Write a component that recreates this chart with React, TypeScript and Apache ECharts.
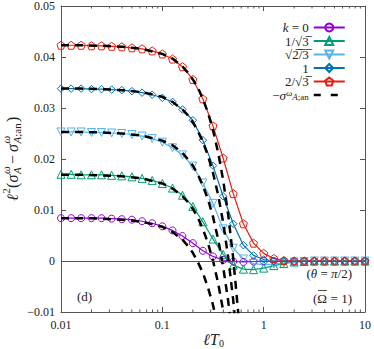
import React, { useEffect, useRef } from 'react';
import * as echarts from 'echarts';

// ---- data ----
const X_T0 = [0.01, 0.0126, 0.0158, 0.02, 0.0251, 0.0316, 0.0398, 0.0501, 0.0631, 0.0794, 0.1, 0.126, 0.158, 0.2, 0.251, 0.316, 0.398, 0.501, 0.631, 0.794, 1, 1.26, 1.58, 2, 2.51, 3.16, 3.98, 5.01, 6.31, 7.94, 10];

const SIGMA_K0 = [0.0084, 0.0084, 0.0084, 0.0084, 0.0084, 0.0083, 0.0082, 0.0081, 0.0078, 0.0074, 0.0068, 0.0060, 0.0049, 0.0035, 0.0020, 0.0009, 0.0002, -0.0001, -0.0002, -0.0001, 0, 0, 0, 0, 0, 0, 0, 0, 0, 0, 0];
const SIGMA_K1 = [0.0170, 0.0170, 0.0169, 0.0169, 0.0169, 0.0168, 0.0167, 0.0165, 0.0162, 0.0158, 0.0152, 0.0143, 0.0129, 0.0107, 0.0077, 0.0043, 0.0013, -0.0008, -0.0016, -0.0017, -0.0014, -0.0009, -0.0005, -0.0002, -0.0001, 0, 0, 0, 0, 0, 0];
const SIGMA_K2 = [0.0253, 0.0253, 0.0253, 0.0252, 0.0252, 0.0251, 0.0250, 0.0248, 0.0245, 0.0240, 0.0233, 0.0222, 0.0208, 0.0186, 0.0153, 0.0113, 0.0063, 0.0025, 0.0004, -0.0005, -0.0007, -0.0006, -0.0004, -0.0002, -0.0001, 0, 0, 0, 0, 0, 0];
const SIGMA_K3 = [0.0338, 0.0338, 0.0338, 0.0337, 0.0337, 0.0336, 0.0335, 0.0333, 0.0330, 0.0326, 0.0320, 0.0312, 0.0297, 0.0276, 0.0237, 0.0187, 0.0127, 0.0073, 0.0031, 0.0011, 0.0003, 0.0000, -0.0001, -0.0001, 0, 0, 0, 0, 0, 0, 0];
const SIGMA_K4 = [0.0423, 0.0423, 0.0423, 0.0422, 0.0422, 0.0421, 0.0420, 0.0418, 0.0416, 0.0412, 0.0406, 0.0396, 0.0381, 0.0356, 0.0318, 0.0265, 0.0202, 0.0132, 0.0073, 0.0035, 0.0015, 0.0005, 0.0001, 0, 0, 0, 0, 0, 0, 0, 0];

const X_AN = [0.01, 0.0158, 0.0251, 0.0398, 0.0631, 0.1, 0.126, 0.158, 0.178, 0.2, 0.224, 0.251, 0.282, 0.316, 0.355, 0.398, 0.447, 0.501, 0.562, 0.631];
const AN_K0 = [0.0084, 0.0084, 0.0083, 0.0081, 0.0077, 0.0067, 0.0057, 0.0042, 0.0030, 0.0016, -0.0002, -0.0023, -0.0052, -0.0086, -0.0131];
const AN_K1 = [0.0169, 0.0169, 0.0168, 0.0166, 0.0162, 0.0152, 0.0142, 0.0127, 0.0116, 0.0102, 0.0085, 0.0063, 0.0035, 0.0001, -0.0043, -0.0097, -0.0167];
const AN_K2 = [0.0253, 0.0253, 0.0252, 0.0250, 0.0246, 0.0236, 0.0227, 0.0212, 0.0200, 0.0187, 0.0170, 0.0148, 0.0121, 0.0087, 0.0043, -0.0011, -0.0079, -0.0165];
const AN_K3 = [0.0338, 0.0338, 0.0337, 0.0335, 0.0331, 0.0322, 0.0312, 0.0297, 0.0286, 0.0272, 0.0255, 0.0234, 0.0207, 0.0173, 0.0130, 0.0076, 0.0007, -0.0077, -0.0185];
const AN_K4 = [0.0423, 0.0423, 0.0422, 0.0420, 0.0416, 0.0406, 0.0397, 0.0381, 0.0370, 0.0356, 0.0340, 0.0318, 0.0291, 0.0257, 0.0213, 0.0159, 0.0090, 0.0005, -0.0103, -0.0240];

const X_MIN = 0.01;
const X_MAX = 10;
const Y_MIN = -0.01;
const Y_MAX = 0.05;
const Y_STEP = 0.01;

const SERIES_NAMES = ['k0', 'k1', 'k2', 'k3', 'k4'];
const AN_NAME = 'an';
const LEGEND_LABELS = [
  '{i|k}{r| = 0}',
  '{r|1/√3\u0305}',
  '{r|√2\u0305/\u03053\u0305}',
  '{r|1}',
  '{r|2/√3\u0305}',
  '{r|−}{i|σ}{sup|ω}{sub|A}{subr|;an}',
];

// ---- styles ----
const FONT = "'Liberation Serif', 'DejaVu Serif', serif";
const AXIS_COLOR = '#555';
const TEXT_COLOR = '#222';
const COLORS = ['#9400d3', '#009e73', '#56b4e9', '#0072b2', '#e51e10'];
const PENTAGON = 'path://M0,-1 L0.951,-0.309 L0.588,0.809 L-0.588,0.809 L-0.951,-0.309 Z';
const SYMBOLS = ['circle', 'triangle', 'triangle', 'diamond', PENTAGON];
const SYMBOL_ROTATE = [0, 0, 180, 0, 0];
const SYMBOL_SIZE = [7, 8, 8, 7.5, 8];

export default function App() {
  const ref = useRef<HTMLDivElement>(null);

  useEffect(() => {
    if (!ref.current) return;
    const chart = echarts.init(ref.current, null, { renderer: 'svg' });

    const sigma = [SIGMA_K0, SIGMA_K1, SIGMA_K2, SIGMA_K3, SIGMA_K4];
    const an = [AN_K0, AN_K1, AN_K2, AN_K3, AN_K4];

    const minorTicks: number[] = [];
    [0.01, 0.1, 1].forEach((d) => {
      for (let m = 2; m <= 9; m++) minorTicks.push(+(d * m).toPrecision(3));
    });

    const colored: any[] = sigma.map((vals, k) => ({
      type: 'line',
      name: SERIES_NAMES[k],
      data: vals.map((v, i) => [X_T0[i], v]),
      symbol: SYMBOLS[k],
      symbolSize: SYMBOL_SIZE[k],
      symbolRotate: SYMBOL_ROTATE[k],
      showAllSymbol: true,
      lineStyle: { color: COLORS[k], width: 1.2 },
      itemStyle: { color: 'rgba(255,255,255,0)', borderColor: COLORS[k], borderWidth: 1 },
      z: 3,
      ...(k === 0
        ? {
            markLine: {
              silent: true,
              symbol: 'none',
              label: { show: false },
              lineStyle: { color: AXIS_COLOR, width: 1, type: 'solid' },
              data: [{ yAxis: 0 }],
            },
          }
        : {}),
    }));

    const dashed: any[] = an.map((vals) => ({
      type: 'line',
      name: AN_NAME,
      data: vals.map((v, i) => [X_AN[i], v]),
      symbol: 'none',
      lineStyle: { color: '#000', width: 2.5, type: [8, 6] },
      itemStyle: { color: '#000' },
      z: 4,
    }));

    const ticks = {
      type: 'custom',
      name: 'minorTicks',
      silent: true,
      clip: false,
      z: 5,
      data: minorTicks.map((v) => [v, Y_MIN]),
      encode: { x: 0, y: 1 },
      renderItem: (_p: any, api: any) => {
        const v = api.value(0);
        const b = api.coord([v, Y_MIN]);
        const t = api.coord([v, Y_MAX]);
        return {
          type: 'group',
          children: [
            { type: 'line', shape: { x1: b[0], y1: b[1], x2: b[0], y2: b[1] - 2.5 }, style: { stroke: AXIS_COLOR, lineWidth: 1 } },
            { type: 'line', shape: { x1: t[0], y1: t[1], x2: t[0], y2: t[1] + 2.5 }, style: { stroke: AXIS_COLOR, lineWidth: 1 } },
          ],
        };
      },
    };

    const labelStyle = { fontFamily: FONT, fontSize: 12, color: TEXT_COLOR };
    const xBase = {
      type: 'log',
      logBase: 10,
      min: X_MIN,
      max: X_MAX,
      splitLine: { show: false },
      axisLine: { show: true, onZero: false, lineStyle: { color: AXIS_COLOR, width: 1 } },
      axisTick: { show: true, inside: true, length: 5, lineStyle: { color: AXIS_COLOR } },
    };
    const yBase = {
      type: 'value',
      min: Y_MIN,
      max: Y_MAX,
      interval: Y_STEP,
      splitLine: { show: false },
      axisLine: { show: true, onZero: false, lineStyle: { color: AXIS_COLOR, width: 1 } },
      axisTick: { show: true, inside: true, length: 5, lineStyle: { color: AXIS_COLOR } },
    };

    const small = 11;
    const main = 16;
    const txt = (text: string, x: number, y: number, size: number, italic: boolean) => ({
      type: 'text',
      style: {
        text,
        x,
        y,
        fill: TEXT_COLOR,
        fontFamily: FONT,
        fontSize: size,
        fontStyle: italic ? 'italic' : 'normal',
        align: 'left',
        verticalAlign: 'middle',
      },
    });

    const option: any = {
      animation: false,
      backgroundColor: '#fff',
      grid: { left: 61, right: 6.3, top: 5.5, bottom: 37 },
      xAxis: [
        {
          ...xBase,
          position: 'bottom',
          axisLabel: { ...labelStyle, margin: 7, formatter: (v: number) => String(+v.toPrecision(3)) },
        },
        { ...xBase, position: 'top', axisLabel: { show: false } },
      ],
      yAxis: [
        {
          ...yBase,
          position: 'left',
          axisLabel: {
            ...labelStyle,
            margin: 6,
            formatter: (v: number) =>
              Math.abs(v) < 1e-9 ? '0' : v < 0 ? '−' + Math.abs(v).toFixed(2) : v.toFixed(2),
          },
        },
        { ...yBase, position: 'right', axisLabel: { show: false } },
      ],
      legend: {
        orient: 'vertical',
        right: 28,
        top: 21,
        padding: 0,
        itemGap: 0.5,
        itemWidth: 31,
        itemHeight: 10,
        align: 'right',
        selectedMode: false,
        data: [
          ...SERIES_NAMES.map((n) => ({ name: n })),
          {
            name: AN_NAME,
            itemStyle: { opacity: 0 },
            lineStyle: { color: '#000', width: 2.5, type: [7, 10] },
          },
        ],
        formatter: (name: string) => {
          const idx = SERIES_NAMES.indexOf(name);
          return LEGEND_LABELS[idx >= 0 ? idx : 5];
        },
        textStyle: {
          fontFamily: FONT,
          fontSize: 13,
          color: TEXT_COLOR,
          lineHeight: 13,
          rich: {
            r: { fontFamily: FONT, fontSize: 13, lineHeight: 13, color: TEXT_COLOR },
            i: { fontFamily: FONT, fontSize: 13, lineHeight: 13, fontStyle: 'italic', color: TEXT_COLOR },
            sup: { fontFamily: FONT, fontSize: 9, lineHeight: 13, fontStyle: 'italic', verticalAlign: 'top', color: TEXT_COLOR },
            sub: { fontFamily: FONT, fontSize: 9, lineHeight: 13, fontStyle: 'italic', verticalAlign: 'bottom', color: TEXT_COLOR },
            subr: { fontFamily: FONT, fontSize: 9, lineHeight: 13, verticalAlign: 'bottom', color: TEXT_COLOR },
          },
        },
      },
      graphic: [
        {
          type: 'group',
          x: 12,
          y: 201,
          rotation: Math.PI / 2,
          children: [
            txt('ℓ', 0, 0, main, true),
            txt('2', 7.2, -6, small, false),
            txt('(', 13, 0, main, false),
            txt('σ', 18.5, 0, main, true),
            txt('ω', 27, -6, small, true),
            txt('A', 27, 5, small, true),
            txt('−', 37, 0, main, false),
            txt('σ', 49, 0, main, true),
            txt('ω', 57.5, -6, small, true),
            txt('A', 57.5, 5, small, true),
            txt(';an', 64.2, 5, small, false),
            txt(')', 79, 0, main, false),
          ],
        },
        {
          type: 'group',
          x: 203,
          y: 339.5,
          children: [txt('ℓT', 0, 0, main, true), txt('0', 16, 3.5, 10, false)],
        },
        {
          type: 'text',
          left: 77,
          top: 290,
          style: { text: '(d)', fill: TEXT_COLOR, fontFamily: FONT, fontSize: 13 },
        },
        {
          type: 'text',
          right: 22,
          top: 267,
          style: {
            text: '{r|(}{i|θ}{r| = }{i|π}{r|/2)}',
            fill: TEXT_COLOR,
            fontFamily: FONT,
            fontSize: 13,
            rich: {
              r: { fontFamily: FONT, fontSize: 13, fill: TEXT_COLOR },
              i: { fontFamily: FONT, fontSize: 13, fontStyle: 'italic', fill: TEXT_COLOR },
            },
          },
        },
        {
          type: 'group',
          x: 313,
          y: 298,
          children: [
            txt('(', 0, 0, 13, false),
            txt('Ω', 4.3, 0, 13, false),
            txt('= 1)', 17.6, 0, 13, false),
            {
              type: 'line',
              shape: { x1: 5, y1: -7.5, x2: 13.8, y2: -7.5 },
              style: { stroke: TEXT_COLOR, lineWidth: 0.8 },
            },
          ],
        },
      ],
      series: [...colored, ...dashed, ticks],
    };

    chart.setOption(option);
    return () => chart.dispose();
  }, []);

  return (
    <div
      ref={ref}
      style={{ position: 'fixed', left: 0, top: 0, width: 374, height: 349, background: '#fff' }}
    />
  );
}
